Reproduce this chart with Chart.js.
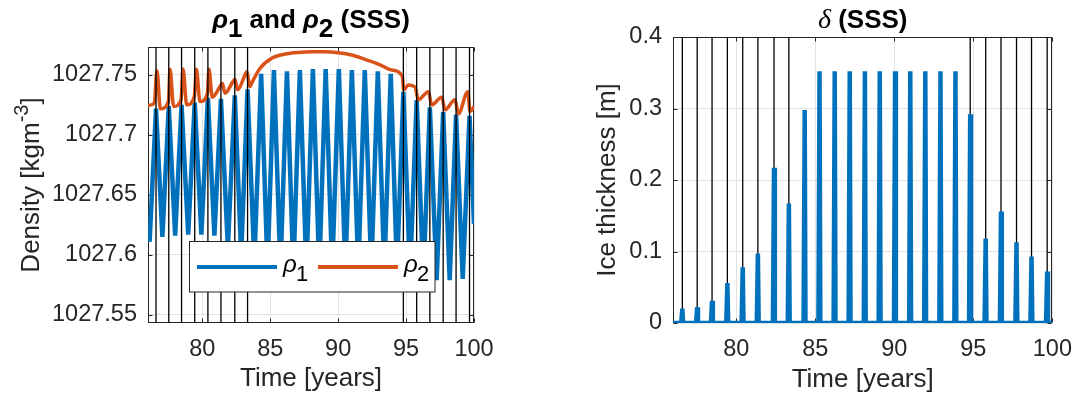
<!DOCTYPE html>
<html>
<head>
<meta charset="utf-8">
<script src="https://cdn.jsdelivr.net/npm/chart.js@4.4.0/dist/chart.umd.min.js"></script>
<style>
  body { margin: 0; background: #fff; }
  #wrap { position: relative; width: 1084px; height: 403px; }
  canvas { position: absolute; top: 0; }
  #densityChart { left: 0; }
  #iceChart { left: 540px; }
</style>
</head>
<body>
<div id="wrap">
  <canvas id="densityChart" width="540" height="403"></canvas>
  <canvas id="iceChart" width="544" height="403"></canvas>
</div>
<script>
// time axis (years)
var xTicks = [80, 85, 90, 95, 100];

// years where the ice fully melts out (black markers)
var meltYears = [76.59, 77.53, 78.47, 79.44, 80.41, 81.37, 82.39, 83.33,
  94.80, 95.78, 96.75, 97.73, 98.68, 99.67];

// rho_1 : upper layer density, one max and one min per year
var rho1Years = [76.00, 76.12, 76.59, 77.06, 77.53, 78.00, 78.47, 78.96, 79.44, 79.93,
  80.41, 80.89, 81.37, 81.88, 82.39, 82.86, 83.33, 83.83, 84.33, 84.80,
  85.27, 85.75, 86.23, 86.70, 87.18, 87.66, 88.14, 88.61, 89.08, 89.56,
  90.05, 90.53, 91.01, 91.48, 91.96, 92.44, 92.92, 93.40, 93.87, 94.33,
  94.80, 95.29, 95.78, 96.27, 96.75, 97.25, 97.73, 98.21, 98.68, 99.17,
  99.67, 100.00];
var rho1 = [1027.624, 1027.611, 1027.722, 1027.615, 1027.724, 1027.616, 1027.725, 1027.617, 1027.727, 1027.617,
  1027.731, 1027.616, 1027.730, 1027.606, 1027.733, 1027.600, 1027.738, 1027.594, 1027.751, 1027.588,
  1027.754, 1027.587, 1027.753, 1027.586, 1027.754, 1027.586, 1027.755, 1027.586, 1027.755, 1027.586,
  1027.755, 1027.586, 1027.754, 1027.586, 1027.754, 1027.586, 1027.753, 1027.586, 1027.751, 1027.587,
  1027.736, 1027.584, 1027.729, 1027.581, 1027.723, 1027.579, 1027.719, 1027.579, 1027.717, 1027.580,
  1027.716, 1027.626];

// rho_2 : lower layer density
var rho2Years = [76.00, 76.46, 76.66, 76.91, 77.50, 77.62, 77.89, 78.43, 78.58, 78.85,
  79.41, 79.56, 79.83, 80.37, 80.49, 80.73, 81.30, 81.47, 81.67, 82.21,
  82.40, 82.60, 83.14, 83.27, 83.51, 83.63, 84.25, 85.11, 86.09, 87.07,
  88.05, 89.03, 90.01, 91.00, 91.98, 92.96, 93.94, 94.72, 94.83, 95.17,
  95.66, 95.90, 96.64, 96.89, 97.62, 97.87, 98.60, 98.85, 99.54, 99.71, 100.00];
var rho2 = [1027.7245, 1027.7265, 1027.7536, 1027.7218, 1027.7278, 1027.7547, 1027.7237, 1027.7293, 1027.7550, 1027.7251,
  1027.7320, 1027.7547, 1027.7278, 1027.7348, 1027.7547, 1027.7315, 1027.7403, 1027.7431, 1027.7348, 1027.7436,
  1027.7464, 1027.7376, 1027.7500, 1027.7527, 1027.7403, 1027.7431, 1027.7556, 1027.7639, 1027.7674, 1027.7688,
  1027.7693, 1027.7693, 1027.7685, 1027.7666, 1027.7630, 1027.7591, 1027.7541, 1027.7490, 1027.7376, 1027.7417,
  1027.7400, 1027.7293, 1027.7361, 1027.7251, 1027.7315, 1027.7210, 1027.7293, 1027.7176, 1027.7361, 1027.7195, 1027.7237];

var rhoMin = 1027.5433, rhoMax = 1027.7733;
var rhoTicks = [1027.55, 1027.6, 1027.65, 1027.7, 1027.75];
var rhoTickLabels = ['1027.55', '1027.6', '1027.65', '1027.7', '1027.75'];

// delta : ice thickness, one peak per winter
var iceYears = [76.59, 77.53, 78.47, 79.44, 80.41, 81.37, 82.39, 83.33, 84.33, 85.27,
  86.23, 87.18, 88.14, 89.08, 90.05, 91.01, 91.96, 92.92, 93.87, 94.80,
  95.78, 96.75, 97.73, 98.68, 99.67];
var icePeak = [0.020, 0.022, 0.031, 0.056, 0.078, 0.097, 0.217, 0.167, 0.298, 0.352,
  0.352, 0.352, 0.352, 0.352, 0.352, 0.352, 0.352, 0.352, 0.352, 0.292,
  0.118, 0.156, 0.113, 0.093, 0.072];
var iceTicks = [0, 0.1, 0.2, 0.3, 0.4];
var iceTickLabels = ['0', '0.1', '0.2', '0.3', '0.4'];

var BLUE = '#0072BD', ORANGE = '#D95319', AXIS = '#262626', GRID = '#e2e2e2';
var SANS = '"Liberation Sans", Arial, sans-serif';
var TICK = 4;

Chart.defaults.font.family = SANS;
Chart.defaults.font.size = 23.5;
Chart.defaults.color = AXIS;
Chart.defaults.animation = false;

function pairs(xs, ys) {
  return xs.map(function (x, i) { return { x: x, y: ys[i] }; });
}

// vertical lines, broken by nulls
function markerLines(years, lo, hi) {
  var pts = [];
  years.forEach(function (t) {
    pts.push({ x: t, y: lo }, { x: t, y: hi }, { x: t, y: null });
  });
  return pts;
}

// spikes sitting on the zero line
function iceSeries() {
  var pts = [{ x: 76, y: 0 }];
  iceYears.forEach(function (t, i) {
    pts.push({ x: t - 0.07, y: 0 }, { x: t, y: icePeak[i] }, { x: t + 0.05, y: 0 });
  });
  pts.push({ x: 100, y: 0 });
  return pts;
}

function xAxis() {
  return {
    type: 'linear', min: 76, max: 100,
    afterBuildTicks: function (s) { s.ticks = xTicks.map(function (v) { return { value: v }; }); },
    afterFit: function (s) { s.height = 80; },
    grid: { color: GRID, drawTicks: false },
    border: { display: false },
    ticks: { padding: 12, autoSkip: false, maxRotation: 0, callback: function (v) { return String(v); } }
  };
}

function yAxis(min, max, ticks, labels, width) {
  return {
    type: 'linear', min: min, max: max,
    afterBuildTicks: function (s) { s.ticks = ticks.map(function (v) { return { value: v }; }); },
    afterFit: function (s) { s.width = width; },
    grid: { color: GRID, drawTicks: false },
    border: { display: false },
    ticks: { padding: 11, autoSkip: false, callback: function (v, i) { return labels[i]; } }
  };
}

// draw a run of text pieces, each with its own font and vertical shift
function drawParts(ctx, parts, x, y) {
  var w = 0;
  parts.forEach(function (p) { ctx.font = p[1]; w += ctx.measureText(p[0]).width; });
  var cx = x - w / 2;
  ctx.textAlign = 'left';
  ctx.textBaseline = 'alphabetic';
  parts.forEach(function (p) {
    ctx.font = p[1];
    ctx.fillText(p[0], cx, y + p[2]);
    cx += ctx.measureText(p[0]).width;
  });
}

// box with inward ticks on all four sides
var axesBox = {
  id: 'axesBox',
  beforeDatasetsDraw: function (chart) {
    var ctx = chart.ctx, a = chart.chartArea;
    var l = Math.round(a.left) + 0.5, r = Math.round(a.right) - 0.5;
    var t = Math.round(a.top) + 0.5, b = Math.round(a.bottom) - 0.5;
    ctx.save();
    ctx.strokeStyle = AXIS;
    ctx.lineWidth = 1;
    ctx.strokeRect(l, t, r - l, b - t);
    ctx.beginPath();
    chart.scales.x.ticks.forEach(function (tk) {
      var px = Math.round(chart.scales.x.getPixelForValue(tk.value)) + 0.5;
      ctx.moveTo(px, b); ctx.lineTo(px, b - TICK);
      ctx.moveTo(px, t); ctx.lineTo(px, t + TICK);
    });
    chart.scales.y.ticks.forEach(function (tk) {
      var py = Math.round(chart.scales.y.getPixelForValue(tk.value)) + 0.5;
      ctx.moveTo(l, py); ctx.lineTo(l + TICK, py);
      ctx.moveTo(r, py); ctx.lineTo(r - TICK, py);
    });
    ctx.stroke();
    ctx.restore();
  }
};

var TITLE = 'bold 26px ' + SANS;
var TITLE_G = 'bold italic 26px ' + SANS;
var LABEL = '26px ' + SANS;

var densityText = {
  id: 'densityText',
  afterDraw: function (chart) {
    var ctx = chart.ctx, a = chart.chartArea;
    var cx = (a.left + a.right) / 2;
    ctx.save();
    ctx.fillStyle = '#000';
    drawParts(ctx, [['\u03C1', TITLE_G, 0], ['1', TITLE, 9], [' and ', TITLE, 0],
      ['\u03C1', TITLE_G, 0], ['2', TITLE, 9], [' (SSS)', TITLE, 0]], cx, 28);
    ctx.fillStyle = AXIS;
    drawParts(ctx, [['Time [years]', LABEL, 0]], cx, 386);
    ctx.save();
    ctx.translate(38.5, (a.top + a.bottom) / 2);
    ctx.rotate(-Math.PI / 2);
    drawParts(ctx, [['Density [kgm', LABEL, 0], ['-3', '20px ' + SANS, -11], [']', LABEL, 0]], 0, 0);
    ctx.restore();

    // legend
    var lx = 189.5, ly = 241.5, lw = 245.5, lh = 50.5;
    ctx.fillStyle = '#fff';
    ctx.fillRect(lx, ly, lw, lh);
    ctx.strokeStyle = AXIS;
    ctx.lineWidth = 1;
    ctx.strokeRect(lx, ly, lw, lh);
    ctx.lineWidth = 4;
    ctx.strokeStyle = BLUE;
    ctx.beginPath(); ctx.moveTo(197, 267); ctx.lineTo(277, 267); ctx.stroke();
    ctx.strokeStyle = ORANGE;
    ctx.beginPath(); ctx.moveTo(318, 267); ctx.lineTo(398, 267); ctx.stroke();
    ctx.fillStyle = '#000';
    var g = 'italic 24px ' + SANS, n = '22px ' + SANS;
    ctx.textAlign = 'left';
    ctx.font = g; ctx.fillText('\u03C1', 283, 272);
    ctx.font = n; ctx.fillText('1', 296, 281);
    ctx.font = g; ctx.fillText('\u03C1', 404, 272);
    ctx.font = n; ctx.fillText('2', 417, 281);
    ctx.restore();
  }
};

var iceText = {
  id: 'iceText',
  afterDraw: function (chart) {
    var ctx = chart.ctx, a = chart.chartArea;
    var cx = (a.left + a.right) / 2;
    ctx.save();
    ctx.fillStyle = '#000';
    drawParts(ctx, [['\u03B4', 'italic 28px "Liberation Serif", serif', 0], [' (SSS)', TITLE, 0]], cx, 28);
    ctx.fillStyle = AXIS;
    drawParts(ctx, [['Time [years]', LABEL, 0]], cx, 387);
    ctx.translate(75, (a.top + a.bottom) / 2);
    ctx.rotate(-Math.PI / 2);
    drawParts(ctx, [['Ice thickness [m]', LABEL, 0]], 0, 0);
    ctx.restore();
  }
};

var densityChart = new Chart(document.getElementById('densityChart'), {
  type: 'line',
  data: {
    datasets: [
      {
        label: 'melt', order: 0,
        data: markerLines(meltYears, rhoMin, rhoMax),
        borderColor: '#000', borderWidth: 1.3, pointRadius: 0, spanGaps: false
      },
      {
        label: '\u03C12', order: 1,
        data: pairs(rho2Years, rho2),
        borderColor: ORANGE, borderWidth: 3.5, pointRadius: 0,
        cubicInterpolationMode: 'monotone', borderJoinStyle: 'round'
      },
      {
        label: '\u03C11', order: 2,
        data: pairs(rho1Years, rho1),
        borderColor: BLUE, borderWidth: 4.5, pointRadius: 0, tension: 0,
        borderJoinStyle: 'bevel'
      }
    ]
  },
  options: {
    responsive: false,
    events: [],
    layout: { padding: { left: 0, top: 47, right: 66, bottom: 0 } },
    scales: {
      x: xAxis(),
      y: yAxis(rhoMin, rhoMax, rhoTicks, rhoTickLabels, 148)
    },
    plugins: { legend: { display: false }, tooltip: { enabled: false } }
  },
  plugins: [axesBox, densityText]
});

var iceChart = new Chart(document.getElementById('iceChart'), {
  type: 'line',
  data: {
    datasets: [
      {
        label: '\u03B4', order: 0,
        data: iceSeries(),
        borderColor: BLUE, borderWidth: 4.5, pointRadius: 0, tension: 0,
        borderJoinStyle: 'bevel'
      },
      {
        label: 'melt', order: 1,
        data: markerLines(meltYears, 0, 0.4),
        borderColor: '#000', borderWidth: 1.3, pointRadius: 0, spanGaps: false
      }
    ]
  },
  options: {
    responsive: false,
    events: [],
    layout: { padding: { left: 0, top: 37, right: 24, bottom: 0 } },
    scales: {
      x: xAxis(),
      y: yAxis(0, 0.4, iceTicks, iceTickLabels, 133)
    },
    plugins: { legend: { display: false }, tooltip: { enabled: false } }
  },
  plugins: [axesBox, iceText]
});
</script>
</body>
</html>
